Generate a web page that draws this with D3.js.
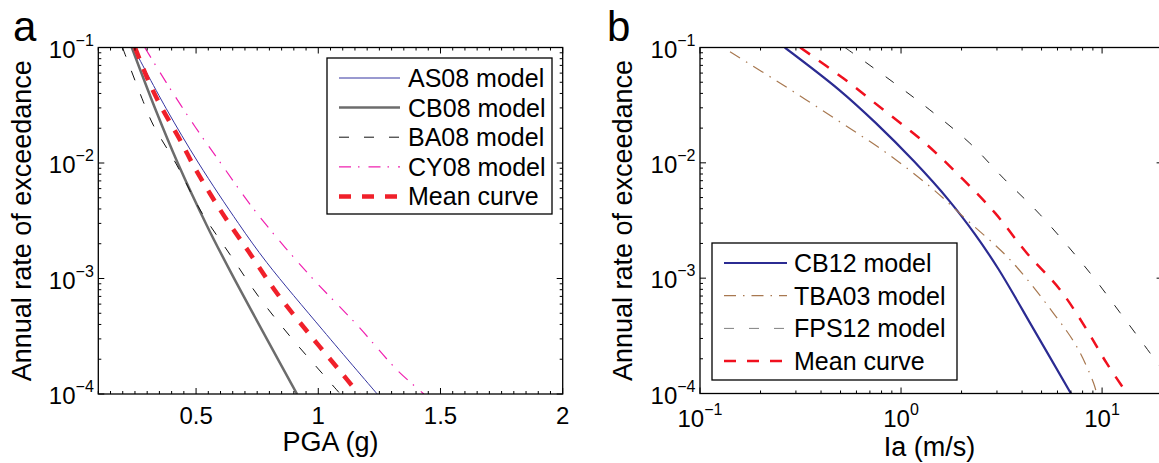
<!DOCTYPE html>
<html>
<head>
<meta charset="utf-8">
<script src="https://cdn.jsdelivr.net/npm/d3@7"></script>
<style>
body{margin:0;background:#fff}
svg{display:block;font-family:"Liberation Sans",Arial,Helvetica,sans-serif}
</style>
</head>
<body>
<div id="chart"></div>
<script>
'use strict'
// ---- panel a : PGA hazard curves ----
const pgaTicks=[0.5,1,1.5,2]
const rateExp=[-1,-2,-3,-4]
const legendA=['AS08 model','CB08 model','BA08 model','CY08 model','Mean curve']
const as08Pga=[0.243,0.377,0.51,0.674,0.79,1.019,1.241]
const as08Rate=[0.1,0.0298,0.01,0.00299,0.00137,0.000356,0.0001]
const cb08Pga=[0.237,0.332,0.425,0.544,0.643,0.913]
const cb08Rate=[0.1,0.0298,0.01,0.00288,0.001125,0.0001]
const ba08Pga=[0.199,0.284,0.325,0.421,0.517,0.640,0.756,0.886,1.022,1.090]
const ba08Rate=[0.1,0.034,0.0213,0.00962,0.00392,0.0016,0.000697,0.000313,0.000146,0.0001]
const cy08Pga=[0.29,0.38,0.496,0.592,0.749,0.954,1.159,1.323,1.432]
const cy08Rate=[0.1,0.049,0.0206,0.0106,0.00367,0.00113,0.000395,0.000161,0.0001]
const meanAPga=[0.25,0.298,0.346,0.442,0.492,0.599,0.715,0.831,0.961,1.091,1.166]
const meanARate=[0.1,0.0558,0.034,0.0148,0.00929,0.00392,0.00171,0.000745,0.000335,0.000156,0.0001]
// ---- panel b : Arias intensity hazard curves ----
const iaExp=[-1,0,1]
const legendB=['CB12 model','TBA03 model','FPS12 model','Mean curve']
const cb12Ia=[0.264,0.49,0.75,1.16,1.73,2.33,3.05,4.58,7.0]
const cb12Rate=[0.1,0.0432,0.0221,0.0103,0.00473,0.00241,0.0012,0.000358,0.0001]
const tba03Ia=[0.141,0.259,0.479,0.849,1.39,2.12,3.48,5.71,7.46,9.06,9.4]
const tba03Rate=[0.092,0.0473,0.0236,0.01213,0.00624,0.00321,0.00145,0.000501,0.000257,0.000124,0.0001]
const fps12Ia=[0.526,0.881,1.39,2.2,3.23,4.92,8.71,12.3,17.3,20]
const fps12Rate=[0.1,0.0524,0.0288,0.0148,0.00736,0.00355,0.00111,0.000501,0.000225,0.000158]
const meanBIa=[0.315,0.516,0.817,1.29,1.97,2.94,4.21,6.18,8.39,10.5,13.3]
const meanBRate=[0.1,0.0541,0.0288,0.0153,0.0076,0.00366,0.00166,0.000794,0.000358,0.000185,0.0001]

let width=1159
let height=463
let svg=d3.select('#chart').append('svg').attr('width',width).attr('height',height)

let seriesA=[
  {xs:as08Pga,ys:as08Rate,color:'#3434a0',w:1,dash:null},
  {xs:cb08Pga,ys:cb08Rate,color:'#6c6c6c',w:2.5,dash:null},
  {xs:ba08Pga,ys:ba08Rate,color:'#111',w:1,dash:'10,15'},
  {xs:cy08Pga,ys:cy08Rate,color:'#f020b0',w:1.2,dash:'12,7,1.5,9'},
  {xs:meanAPga,ys:meanARate,color:'#f0202a',w:4.5,dash:'12,11'}]
let seriesB=[
  {xs:cb12Ia,ys:cb12Rate,color:'#2b2b92',w:2.2,dash:null,leg:'#2b2b92'},
  {xs:tba03Ia,ys:tba03Rate,color:'#a87850',w:1.2,dash:'12,7,1.5,7',leg:'#a87850'},
  {xs:fps12Ia,ys:fps12Rate,color:'#222',w:1,dash:'10,15',leg:'#808080'},
  {xs:meanBIa,ys:meanBRate,color:'#f0101e',w:2.5,dash:'12,11',leg:'#f0101e'}]

function tickLabel(t,x,y,anchor,exp){
  let tx=t.append('text').attr('x',x).attr('y',y).attr('text-anchor',anchor).attr('font-size',24)
  tx.append('tspan').text('10')
  tx.append('tspan').attr('dy',-12).attr('font-size',16).text(exp<0?'\u2212'+(-exp):String(exp))
}

function drawPanel(o){
  let g=svg.append('g')
  let x=o.x,y=o.y
  let x0=x.range()[0],x1=x.range()[1]
  let yb=y.range()[0],yt=y.range()[1]
  g.append('clipPath').attr('id','clip'+o.name).append('rect')
    .attr('x',x0).attr('y',yt).attr('width',x1-x0).attr('height',yb-yt)
  let plot=g.append('g').attr('clip-path','url(#clip'+o.name+')')
  let line=d3.line().x(d=>x(d[0])).y(d=>y(d[1])).curve(d3.curveCatmullRom.alpha(0.5))
  o.series.forEach(s=>{
    plot.append('path').datum(d3.zip(s.xs,s.ys)).attr('d',line)
      .attr('fill','none').attr('stroke',s.color).attr('stroke-width',s.w)
      .attr('stroke-dasharray',s.dash)
  })
  // ticks, all four sides, pointing inward
  let tk=g.append('g').attr('stroke','#000').attr('stroke-width',1)
  y.ticks().forEach(v=>{
    let major=Math.abs(Math.log10(v)-Math.round(Math.log10(v)))<1e-6
    let len=major?6:3
    tk.append('line').attr('x1',x0).attr('x2',x0+len).attr('y1',y(v)).attr('y2',y(v))
    tk.append('line').attr('x1',x1).attr('x2',x1-len).attr('y1',y(v)).attr('y2',y(v))
  })
  o.xTicks.forEach(v=>{
    let len=o.isMajor(v)?6:3
    tk.append('line').attr('x1',x(v)).attr('x2',x(v)).attr('y1',yb).attr('y2',yb-len)
    tk.append('line').attr('x1',x(v)).attr('x2',x(v)).attr('y1',yt).attr('y2',yt+len)
  })
  g.append('rect').attr('x',x0).attr('y',yt).attr('width',x1-x0).attr('height',yb-yt)
    .attr('fill','none').attr('stroke','#000').attr('stroke-width',1.3)
  // y tick labels
  rateExp.forEach(e=>tickLabel(g,x0-4.5,y(Math.pow(10,e))+10,'end',e))
  // axis titles
  g.append('text').attr('transform','translate('+o.yTitleX+','+((yt+yb)/2)+')rotate(-90)')
    .attr('text-anchor','middle').attr('font-size',27).text('Annual rate of exceedance')
  g.append('text').attr('x',(x0+Math.min(x1,width))/2).attr('y',o.xTitleY)
    .attr('text-anchor','middle').attr('font-size',27).text(o.xTitle)
  g.append('text').attr('x',o.letterX).attr('y',41).attr('font-size',42).text(o.name)
  return g
}

function drawLegend(g,labels,series,box){
  let lg=g.append('g')
  lg.append('rect').attr('x',box.x).attr('y',box.y).attr('width',box.w).attr('height',box.h)
    .attr('fill','#fff').attr('stroke','#000').attr('stroke-width',1.3)
  labels.forEach((lab,i)=>{
    let cy=box.first+i*box.step
    let s=series[i]
    lg.append('line').attr('x1',box.lx0).attr('x2',box.lx1).attr('y1',cy).attr('y2',cy)
      .attr('stroke',s.leg||s.color).attr('stroke-width',s.w).attr('stroke-dasharray',s.dash)
    lg.append('text').attr('x',box.tx).attr('y',cy+9).attr('font-size',25).text(lab)
  })
}

// panel a
let xa=d3.scaleLinear().domain([0.1,2]).range([98.3,562.7])
let ya=d3.scaleLog().domain([1e-4,1e-1]).range([394,47.5])
let ga=drawPanel({name:'a',x:xa,y:ya,series:seriesA,xTicks:xa.ticks(38),
  isMajor:v=>pgaTicks.some(p=>Math.abs(p-v)<1e-6),
  yTitleX:31,xTitle:'PGA (g)',xTitleY:451,letterX:13})
pgaTicks.forEach(v=>ga.append('text').attr('x',xa(v)).attr('y',424)
  .attr('text-anchor','middle').attr('font-size',24).text(d3.format('')(v)))
drawLegend(ga,legendA,seriesA,{x:327,y:58,w:225,h:156,first:78,step:29.6,lx0:339,lx1:400,tx:408})

// panel b
let xb=d3.scaleLog().domain([0.1,20]).range([700,1162.6])
let yb=d3.scaleLog().domain([1e-4,1e-1]).range([393.5,47.5])
let gb=drawPanel({name:'b',x:xb,y:yb,series:seriesB,xTicks:xb.ticks(),
  isMajor:v=>iaExp.some(e=>Math.abs(Math.log10(v)-e)<1e-6),
  yTitleX:632,xTitle:'Ia (m/s)',xTitleY:456,letterX:607})
iaExp.forEach(e=>tickLabel(gb,xb(Math.pow(10,e)),427,'middle',e))
drawLegend(gb,legendB,seriesB,{x:712,y:243,w:245,h:137,first:263,step:32.7,lx0:724,lx1:787,tx:794})
</script>
</body>
</html>
